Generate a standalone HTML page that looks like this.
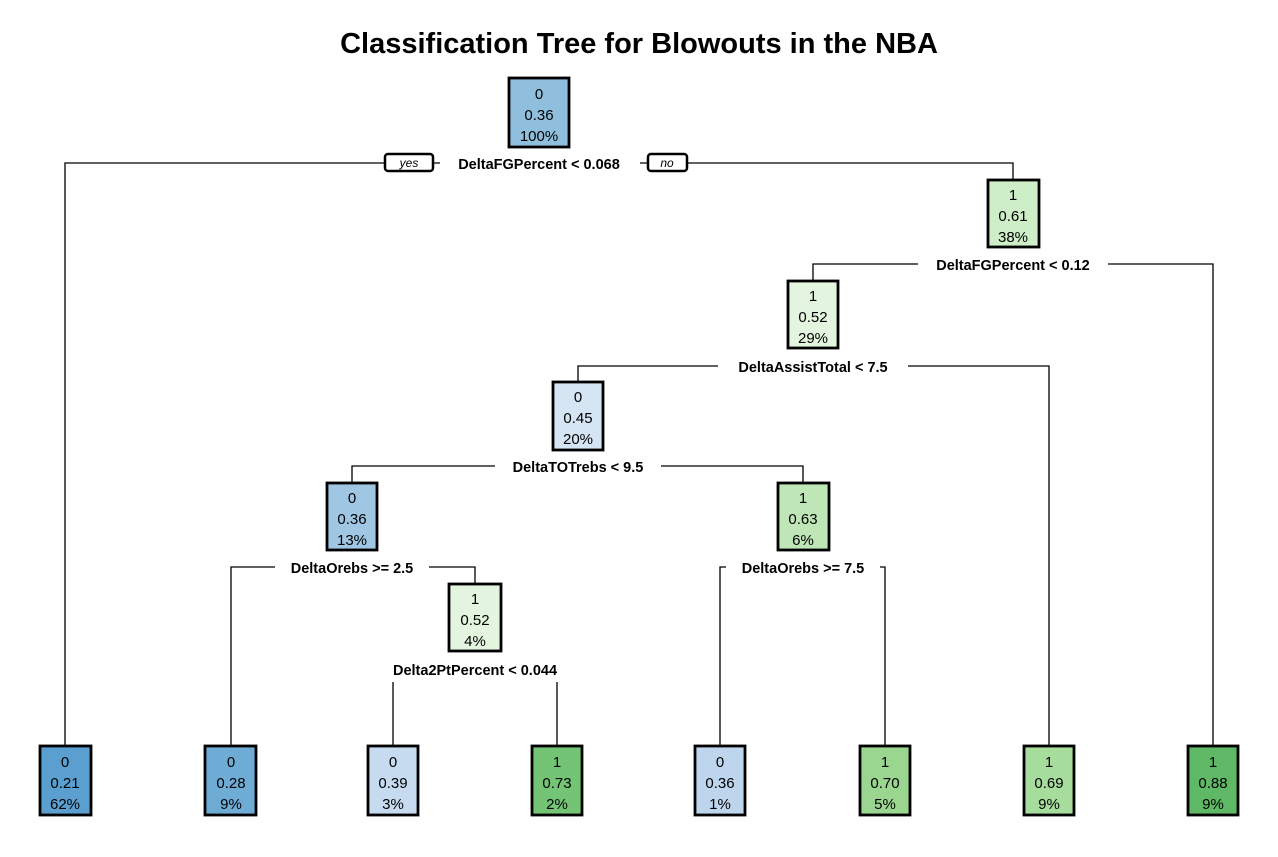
<!DOCTYPE html>
<html><head><style>
body{margin:0;background:#fff;width:1278px;height:852px;overflow:hidden}
svg text{font-family:"Liberation Sans",Arial,sans-serif}
</style></head><body>
<svg width="1278" height="852" xmlns="http://www.w3.org/2000/svg">
<rect width="1278" height="852" fill="#fff"/>
<text x="639" y="53" text-anchor="middle" font-size="29" font-weight="bold">Classification Tree for Blowouts in the NBA</text>
<g stroke="#000" stroke-width="1.3" fill="none">
<polyline points="65,746 65,163 1013,163 1013,180"/>
<polyline points="813,281 813,264 1213,264 1213,746"/>
<polyline points="578,382 578,366 1049,366 1049,746"/>
<polyline points="352,483 352,466 803,466 803,483"/>
<polyline points="231,746 231,567 475,567 475,584"/>
<polyline points="720,746 720,567 885,567 885,746"/>
<line x1="393" y1="682" x2="393" y2="746"/>
<line x1="557" y1="682" x2="557" y2="746"/>
</g>
<g font-size="14.5" font-weight="bold" text-anchor="middle">
<rect x="440" y="154" width="200" height="18" fill="#fff"/><text x="539" y="169">DeltaFGPercent &lt; 0.068</text>
<rect x="918" y="255" width="190" height="18" fill="#fff"/><text x="1013" y="270">DeltaFGPercent &lt; 0.12</text>
<rect x="718" y="357" width="190" height="18" fill="#fff"/><text x="813" y="372">DeltaAssistTotal &lt; 7.5</text>
<rect x="495" y="457" width="166" height="18" fill="#fff"/><text x="578" y="472">DeltaTOTrebs &lt; 9.5</text>
<rect x="275" y="558" width="154" height="18" fill="#fff"/><text x="352" y="573">DeltaOrebs &gt;= 2.5</text>
<rect x="726" y="558" width="154" height="18" fill="#fff"/><text x="803" y="573">DeltaOrebs &gt;= 7.5</text>
<text x="475" y="675">Delta2PtPercent &lt; 0.044</text>
</g>
<g stroke="#000" stroke-width="2.5" fill="#fff">
<rect x="385" y="154" width="48" height="17" rx="3"/>
<rect x="648" y="154" width="39" height="17" rx="3"/>
</g>
<g font-size="12" font-style="italic" text-anchor="middle">
<text x="409" y="167">yes</text><text x="667" y="167">no</text>
</g>
<g stroke="#000" stroke-width="2.8">
<rect x="509" y="78" width="60" height="69" fill="#8fbfdc"/>
<rect x="988" y="180" width="51" height="67" fill="#cdeec6"/>
<rect x="788" y="281" width="50" height="67" fill="#e4f5df"/>
<rect x="553" y="382" width="50" height="68" fill="#d5e5f4"/>
<rect x="327" y="483" width="50" height="67" fill="#9fc6e2"/>
<rect x="778" y="483" width="51" height="67" fill="#bfe6b6"/>
<rect x="449" y="584" width="52" height="67" fill="#e4f5df"/>
<rect x="40" y="746" width="51" height="69" fill="#5a9fcf"/>
<rect x="205" y="746" width="51" height="69" fill="#6eacd6"/>
<rect x="368" y="746" width="50" height="69" fill="#c6dbef"/>
<rect x="532" y="746" width="50" height="69" fill="#74c476"/>
<rect x="695" y="746" width="50" height="69" fill="#bdd6ee"/>
<rect x="860" y="746" width="50" height="69" fill="#9ad68f"/>
<rect x="1024" y="746" width="50" height="69" fill="#a6dc9c"/>
<rect x="1188" y="746" width="50" height="69" fill="#5fb865"/>
</g>
<g font-size="15" text-anchor="middle">
<text x="539" y="99">0</text><text x="539" y="120">0.36</text><text x="539" y="141">100%</text>
<text x="1013" y="200">1</text><text x="1013" y="221">0.61</text><text x="1013" y="242">38%</text>
<text x="813" y="301">1</text><text x="813" y="322">0.52</text><text x="813" y="343">29%</text>
<text x="578" y="402">0</text><text x="578" y="423">0.45</text><text x="578" y="444">20%</text>
<text x="352" y="503">0</text><text x="352" y="524">0.36</text><text x="352" y="545">13%</text>
<text x="803" y="503">1</text><text x="803" y="524">0.63</text><text x="803" y="545">6%</text>
<text x="475" y="604">1</text><text x="475" y="625">0.52</text><text x="475" y="646">4%</text>
<text x="65" y="767">0</text><text x="65" y="788">0.21</text><text x="65" y="809">62%</text>
<text x="231" y="767">0</text><text x="231" y="788">0.28</text><text x="231" y="809">9%</text>
<text x="393" y="767">0</text><text x="393" y="788">0.39</text><text x="393" y="809">3%</text>
<text x="557" y="767">1</text><text x="557" y="788">0.73</text><text x="557" y="809">2%</text>
<text x="720" y="767">0</text><text x="720" y="788">0.36</text><text x="720" y="809">1%</text>
<text x="885" y="767">1</text><text x="885" y="788">0.70</text><text x="885" y="809">5%</text>
<text x="1049" y="767">1</text><text x="1049" y="788">0.69</text><text x="1049" y="809">9%</text>
<text x="1213" y="767">1</text><text x="1213" y="788">0.88</text><text x="1213" y="809">9%</text>
</g>
</svg>
</body></html>
